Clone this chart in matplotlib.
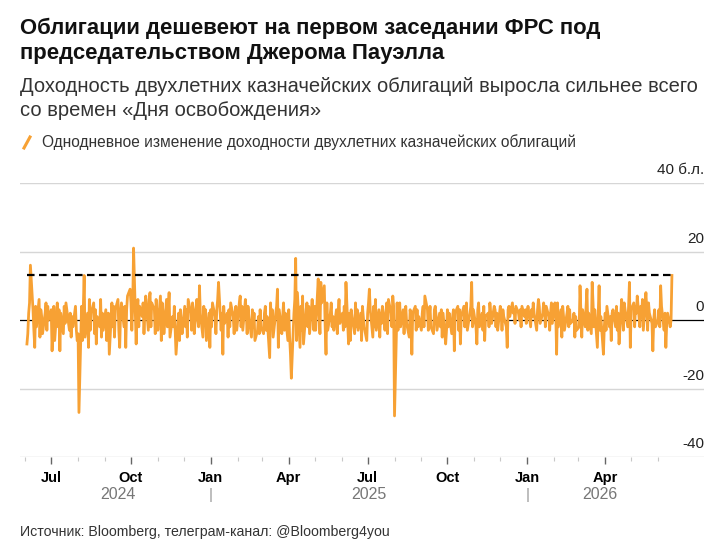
import matplotlib
matplotlib.use("Agg")
import matplotlib.pyplot as plt
import matplotlib.dates as mdates
from matplotlib.lines import Line2D
import pandas as pd

# one-day change in 2y Treasury yield, bp, business days by month
jun_2024 = [-7, -4, 2, 5, 16, 3, -3, -8, 4, -2, 6, -5, 3, 1, -4, 2, 5, -3, 4, 0]
jul_2024 = [3, -9, -2, 4, -6, 5, -2, 3, -9, 2, -4, 4, -1, 5, 3, -3, 2, -5, 1, -2, 4, -3, -6]
aug_2024 = [-4, -27, 4, -6, 3, 13, -5, 2, -8, 6, -3, 2, 5, -4, 3, -7, 1, -2, 6, -5, 2, -3]
sep_2024 = [3, -6, -3, 2, -10, 5, -2, 4, -5, 3, 6, -3, -8, 2, 5, -2, 4, -8, 3, 7, 9]
oct_2024 = [5, -3, 4, 21, -7, 3, 6, -2, 4, 1, 5, -4, 2, 7, -3, 6, 8, -2, 5, 3, -4, 6, 2]
nov_2024 = [-3, 7, -6, 5, 2, -4, 6, -2, 3, 8, -5, 1, -2, 4, -3, -10, 2, -6, 3, -1, -4]
dec_2024 = [4, -2, 3, -5, 6, 2, -3, 5, 3, -4, 6, 1, -2, 10, 2, -5, 4, -1, 3, -6, 2, -8]
jan_2025 = [3, -2, 5, 1, -4, 3, 6, 11, -3, 2, -10, 4, -1, 2, -5, 3, -2, 5, 1, -4, 2, 4, -3]
feb_2025 = [5, 7, -2, 4, -3, 6, 2, -4, 4, 1, -5, 3, -2, 2, -6, -3, 1, -4, 3, -2]
mar_2025 = [-4, 2, 4, -3, 1, -11, 5, -2, 3, -5, 2, 4, 9, -8, 3, -4, 1, 5, -3, 2, -6]
apr_2025 = [3, -5, -10, -17, 2, 6, 18, -6, 8, -8, 4, -3, 7, -7, 3, 5, -2, 4, -4, 6, 2, -3]
may_2025 = [4, -3, 12, 2, -4, 11, 5, 10, -2, -10, 5, -3, 2, 5, -2, 1, -3, 3, -4, 2, 6, -1]
jun_2025 = [2, -3, 4, -2, 11, -7, 2, -6, 3, 1, -4, 5, -2, 3, -3, 2, -6, 4, 1, -2, -6]
jul_2025 = [2, 5, 9, 3, -5, 4, -2, 6, -3, 3, -5, 2, -1, 4, -3, 2, 5, -4, 6, 2, -2, 7, 4]
aug_2025 = [-28, 5, -3, 2, 5, -2, 3, -4, 2, 4, -1, -5, 3, 1, -10, 2, 4, -3, 3, -2, 1]
sep_2025 = [-3, 2, 4, -2, 7, 3, -3, 1, 4, -2, -4, 3, 4, 1, -3, 2, -2, 3, -5, 2, -7, -3]
oct_2025 = [3, -2, 2, -4, 1, 3, -9, 2, 4, -3, 3, -7, 1, 4, -2, 2, 5, -3, 2, 4, 11, -2, 3]
nov_2025 = [-2, -7, 3, 5, -2, 2, -3, 4, -6, 1, 2, -2, 5, 2, -1, 4, 3, -2, 2, -3]
dec_2025 = [4, 2, -3, 3, 1, -2, -8, 3, 4, 1, 5, 2, 3, -1, 4, 2, 0, 3, -2, 4, 1, 3, -1]
jan_2026 = [2, 4, -2, 3, 1, 5, 2, -3, 3, 6, 4, -1, 2, 5, 3, -2, 4, 1, -3, 2, 5, -1]
feb_2026 = [5, 2, -10, 5, -2, 3, -5, 4, 1, -3, 2, 4, -2, 3, -1, 0, 2, -5, 1, -3]
mar_2026 = [-2, 10, 2, -5, 3, -2, 4, 9, -3, 2, -4, 11, 5, -2, 3, -8, 2, 10, -3, 1, -10, -2]
apr_2026 = [2, -3, 4, -2, 1, -6, 2, 3, -2, 4, -3, 2, -7, 6, 2, -3, 5, 3, -2, 4, 11, -8]
may_2026 = [3, 5, -2, 4, 2, 7, -2, 4, 1, 6, -3, 8, 3, -3, 5, 2, -1, -9, 0, 3, -2]
jun_2026 = [0, 3, -2, 10, 4, -3, 2, -8, -1, 2, -2, 0, 13]

START = "2024-06-03"
Y_TICKS = [40, 20, 0, -20, -40]
Y_LABELS = ["40 б.л.", "20", "0", "-20", "-40"]
YEARS = [2024, 2025, 2026]

ORANGE = "#F7A134"
FONT = ["Liberation Sans", "DejaVu Sans"]
plt.rcParams["font.family"] = FONT

values = (jun_2024 + jul_2024 + aug_2024 + sep_2024 + oct_2024 + nov_2024 + dec_2024
          + jan_2025 + feb_2025 + mar_2025 + apr_2025 + may_2025 + jun_2025
          + jul_2025 + aug_2025 + sep_2025 + oct_2025 + nov_2025 + dec_2025
          + jan_2026 + feb_2026 + mar_2026 + apr_2026 + may_2026 + jun_2026)
dates = pd.bdate_range(START, periods=len(values))
s = pd.Series(values, index=dates)

W, H = 721, 553
fig = plt.figure(figsize=(W / 100, H / 100), dpi=100)
ax = fig.add_axes([20 / W, 1 - 457 / H, 684 / W, 274 / H])

x0 = pd.Timestamp("2024-05-26")
x1 = pd.Timestamp("2026-07-24")
ax.set_xlim(x0, x1)
ax.set_ylim(-40, 40)

for y in Y_TICKS:
    if y == 0:
        continue
    ax.axhline(y, color="#d6d6d6", lw=1.0, zorder=1)
ax.axhline(0, color="black", lw=0.9, zorder=2)

ax.plot(s.index, s.values, color=ORANGE, lw=2.0, zorder=3)
# dashed reference at the latest reading
ax.hlines(s.iloc[-1], s.index[0], s.index[-1], colors="black", lw=1.6,
          linestyles=(0, (3.4, 2.0)), zorder=4)

for y, lab in zip(Y_TICKS, Y_LABELS):
    ax.annotate(lab, xy=(1, y), xycoords=("axes fraction", "data"),
                xytext=(0, 4), textcoords="offset points",
                ha="right", va="bottom", fontsize=11, color="#222")

for sp in ax.spines.values():
    sp.set_visible(False)
ax.set_yticks([])

# quarter ticks and monthly minor ticks only across the data span
majors = pd.date_range("2024-07-01", s.index[-1], freq="QS-JAN")
minors = pd.date_range("2024-06-01", s.index[-1], freq="MS")
ax.set_xticks(majors)
ax.set_xticklabels([d.strftime("%b") for d in majors], fontweight="bold")
ax.set_xticks(minors, minor=True)
ax.tick_params(axis="x", which="major", length=5, width=1.0, color="#666",
               labelsize=10.5, pad=5)
ax.tick_params(axis="x", which="minor", length=3, width=0.8, color="#c8c8c8")

# year labels, centred on the visible part of each year
for yr in YEARS:
    a = max(pd.Timestamp(f"{yr}-01-01"), s.index[0])
    b = min(pd.Timestamp(f"{yr}-12-31"), s.index[-1])
    mid = a + (b - a) / 2
    ax.annotate(str(yr), xy=(mdates.date2num(mid), 0), xycoords=("data", "axes fraction"),
                xytext=(0, -27), textcoords="offset points", ha="center", va="center",
                fontsize=11.5, color="#777")
    if yr > YEARS[0]:
        ax.annotate("|", xy=(mdates.date2num(pd.Timestamp(f"{yr}-01-01")), 0),
                    xycoords=("data", "axes fraction"), xytext=(0, -27),
                    textcoords="offset points", ha="center", va="center",
                    fontsize=11, color="#999")

fig.text(20 / W, 1 - 28 / H, "Облигации дешевеют на первом заседании ФРС под",
         fontsize=15.9, fontweight="bold", va="center", ha="left", color="#111")
fig.text(20 / W, 1 - 53 / H, "председательством Джерома Пауэлла",
         fontsize=15.9, fontweight="bold", va="center", ha="left", color="#111")
fig.text(20 / W, 1 - 86 / H,
         "Доходность двухлетних казначейских облигаций выросла сильнее всего",
         fontsize=14.5, va="center", ha="left", color="#333")
fig.text(20 / W, 1 - 110 / H, "со времен «Дня освобождения»",
         fontsize=14.5, va="center", ha="left", color="#333")

fig.add_artist(Line2D([24 / W, 30 / W], [1 - 148 / H, 1 - 137 / H], color=ORANGE,
                      lw=2.2, transform=fig.transFigure))
fig.text(42 / W, 1 - 142 / H, "Однодневное изменение доходности двухлетних казначейских облигаций",
         fontsize=11.2, va="center", ha="left", color="#333")

fig.text(20 / W, 1 - 532 / H, "Источник: Bloomberg, телеграм-канал: @Bloomberg4you",
         fontsize=10.2, va="center", ha="left", color="#333")

fig.savefig("out.png", dpi=100, facecolor="white")
